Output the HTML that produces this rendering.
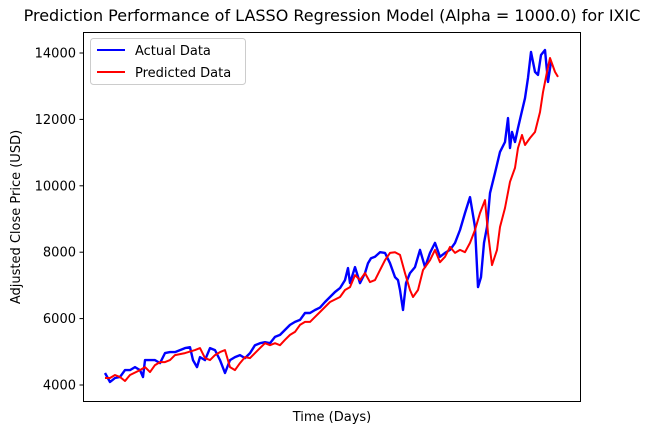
<!DOCTYPE html>
<html><head><meta charset="utf-8"><style>
body{margin:0;background:#fff;}
svg text{font-family:"DejaVu Sans","Liberation Sans",sans-serif;fill:#000;}
</style></head><body>
<svg id="chart" width="661" height="436" viewBox="0 0 661 436" xmlns="http://www.w3.org/2000/svg">
<rect width="661" height="436" fill="#fff"/>
<text x="332" y="21" font-size="16" text-anchor="middle">Prediction Performance of LASSO Regression Model (Alpha = 1000.0) for IXIC</text>
<text transform="translate(20,217) rotate(-90)" font-size="13" text-anchor="middle">Adjusted Close Price (USD)</text>
<text x="332" y="421" font-size="13" text-anchor="middle">Time (Days)</text>
<g id="yticks"></g>
<g id="series"></g>
<rect x="83.5" y="32.5" width="497" height="369" fill="none" stroke="#000" stroke-width="1"/>
<g>
<rect x="90.5" y="38.5" width="155" height="46" rx="3" fill="#fff" stroke="#ccc"/>
<g><line x1="97" y1="50" x2="125" y2="50" stroke="#0000ff" stroke-width="2"/><text x="135" y="55" font-size="13">Actual Data</text></g>
<g><line x1="97" y1="72" x2="125" y2="72" stroke="#ff0000" stroke-width="2"/><text x="135" y="77" font-size="13">Predicted Data</text></g>
</g>
</svg>
<script>
const yTicks=[4000,6000,8000,10000,12000,14000];
const actualDays=[0,10,20,30,40,50,60,70,76,80,90,100,110,120,130,140,150,160,170,176,184,190,200,210,220,230,240,250,260,270,280,290,300,310,320,330,340,350,360,370,380,390,400,410,420,430,440,450,460,470,480,486,490,500,510,520,526,532,540,550,560,570,580,586,590,596,602,610,620,630,640,650,660,670,680,690,700,710,720,730,740,746,752,758,764,770,780,790,800,806,810,814,820,826,832,840,846,852,860,866,872,880,886,892,898,904];
const actualValues=[4360,4090,4210,4240,4450,4450,4540,4450,4240,4750,4750,4750,4660,4960,4990,4990,5050,5110,5140,4750,4540,4840,4750,5110,5050,4750,4360,4750,4840,4900,4810,4960,5200,5260,5290,5260,5450,5510,5660,5810,5900,5960,6170,6170,6260,6330,6500,6650,6800,6920,7160,7520,7070,7550,7070,7370,7670,7820,7860,8000,7980,7670,7250,7160,6860,6260,7070,7370,7550,8070,7550,7980,8280,7860,7980,8070,8280,8670,9180,9660,8760,6950,7250,8280,8760,9780,10390,11020,11320,12040,11140,11620,11320,11740,12130,12640,13250,14030,13430,13340,13940,14090,13130,13730];
const predDays=[0,10,20,30,40,50,70,80,90,100,110,120,130,140,160,180,190,200,210,220,230,240,250,260,270,280,290,300,310,320,330,340,350,360,370,380,390,400,410,420,430,440,450,470,480,490,500,510,520,530,540,550,560,570,580,590,600,610,616,626,636,650,660,670,680,690,700,710,720,730,740,750,760,766,774,784,790,800,810,820,826,834,840,850,860,870,876,884,890,900,906];
const predValues=[4210,4210,4300,4240,4120,4300,4450,4540,4390,4600,4690,4690,4750,4900,4960,5050,5110,4810,4750,4900,4990,5050,4540,4450,4660,4840,4810,4960,5110,5260,5200,5260,5200,5360,5510,5600,5810,5900,5900,6050,6200,6350,6500,6650,6860,6950,7310,7160,7370,7100,7160,7460,7760,7980,8000,7920,7370,6860,6650,6860,7460,7760,8070,7700,7860,8160,7980,8070,8000,8280,8670,9180,9570,8580,7610,8070,8760,9330,10120,10540,11140,11530,11230,11440,11620,12220,12820,13430,13850,13430,13280,13580];
const X0=83,X1=581,Y0=32,Y1=402;
const dMin=0,dMax=906;
function xs(d){return 105+(d-dMin)/(dMax-dMin)*453;}
function ys(v){return 385-(v-4000)*0.0332;}
const NS="http://www.w3.org/2000/svg";
const yt=document.getElementById('yticks');
yTicks.forEach(t=>{
  const y=ys(t);
  const l=document.createElementNS(NS,'line');
  l.setAttribute('x1',X0-3.5);l.setAttribute('x2',X0);l.setAttribute('y1',y);l.setAttribute('y2',y);l.setAttribute('stroke','#000');
  
  
  yt.appendChild(l);
  const tx=document.createElementNS(NS,'text');
  tx.setAttribute('x',X0-7);tx.setAttribute('y',y+4.5);tx.setAttribute('font-size','13');tx.setAttribute('text-anchor','end');
  tx.textContent=t;
  
  
  yt.appendChild(tx);
});
const sg=document.getElementById('series');
function addLine(days,vals,color,name,w){
  const p=document.createElementNS(NS,'polyline');
  p.setAttribute('points',days.map((d,i)=>xs(d).toFixed(1)+','+ys(vals[i]).toFixed(1)).join(' '));
  p.setAttribute('fill','none');p.setAttribute('stroke',color);p.setAttribute('stroke-width',w);p.setAttribute('stroke-linejoin','round');
  
  
  sg.appendChild(p);
}
addLine(actualDays,actualValues,'#0000ff','actual-data-line','2.4');
addLine(predDays,predValues,'#ff0000','predicted-data-line','2');
</script>
</body></html>
